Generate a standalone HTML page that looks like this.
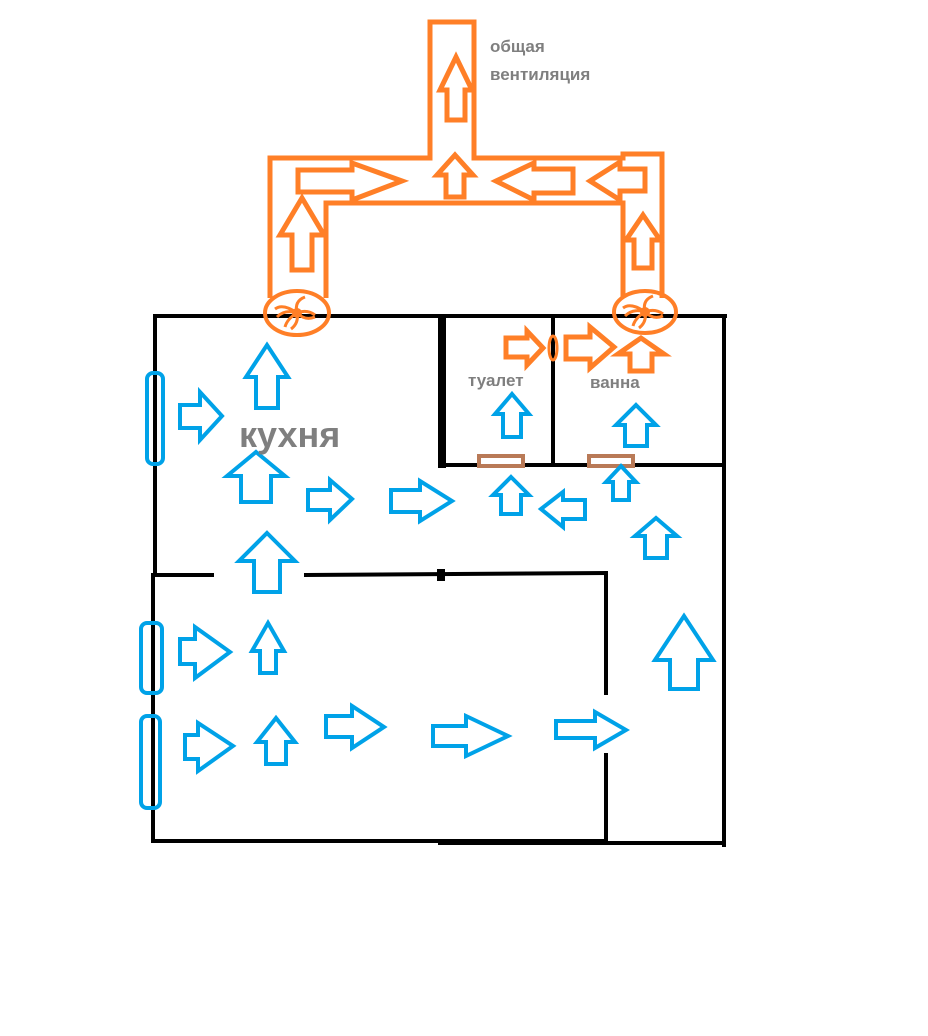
<!DOCTYPE html>
<html><head><meta charset="utf-8"><style>
html,body{margin:0;padding:0;background:#fff;width:928px;height:1036px;overflow:hidden}
svg{display:block}
text{font-family:"Liberation Sans","DejaVu Sans",sans-serif;font-weight:bold;fill:#7f7f7f}
</style></head><body>
<svg width="928" height="1036" viewBox="0 0 928 1036" xmlns="http://www.w3.org/2000/svg">
<g stroke="#000" stroke-width="4" fill="none" stroke-linecap="square">
<line x1="155" y1="316" x2="725" y2="316"/>
<line x1="155" y1="316" x2="155" y2="575"/>
<line x1="153" y1="575" x2="212" y2="575"/>
<line x1="306" y1="575" x2="606" y2="573"/>
<line x1="153" y1="575" x2="153" y2="841"/>
<line x1="153" y1="841" x2="440" y2="841"/>
<line x1="724" y1="316" x2="724" y2="845"/>
<line x1="440" y1="465" x2="724" y2="465"/>
<line x1="553" y1="316" x2="553" y2="465"/>
<line x1="606" y1="573" x2="606" y2="693"/>
<line x1="606" y1="755" x2="606" y2="841"/>
<line x1="606" y1="843" x2="724" y2="843"/>
</g>
<line x1="442" y1="316" x2="442" y2="468" stroke="#000" stroke-width="8"/>
<line x1="438" y1="842" x2="606" y2="842" stroke="#000" stroke-width="6"/>
<rect x="437" y="569" width="8" height="12" fill="#000"/>
<rect x="479" y="456" width="44" height="10" fill="#fff" stroke="#b97a57" stroke-width="4"/>
<rect x="589" y="456" width="44" height="10" fill="#fff" stroke="#b97a57" stroke-width="4"/>
<g fill="none" stroke="#00a2e8" stroke-width="4">
<rect x="147" y="373" width="16" height="91" rx="6"/>
<rect x="141" y="623" width="21" height="70" rx="6"/>
<rect x="141" y="716" width="19" height="92" rx="6"/>
</g>
<g fill="none" stroke="#00a2e8" stroke-width="4" stroke-linejoin="miter">
<polygon points="267,345 288,377 278,377 278,408 256,408 256,377 246,377"/>
<polygon points="180,405 200,405 200,392 222,416 200,440 200,428 180,428"/>
<polygon points="256,452 285,476 271,476 271,502 241,502 241,476 227,476"/>
<polygon points="308,490 330,490 330,480 352,499 330,520 330,510 308,510"/>
<polygon points="391,490 420,490 420,481 452,501 420,521 420,512 391,512"/>
<polygon points="267,533 295,561 280,561 280,592 254,592 254,561 239,561"/>
<polygon points="180,639 195,639 195,627 230,652 195,678 195,664 180,664"/>
<polygon points="268,623 284,651 276,651 276,673 260,673 260,651 252,651"/>
<polygon points="185,735 198,735 198,723 233,746 198,771 198,759 185,759"/>
<polygon points="276,718 295,742 286,742 286,764 266,764 266,742 257,742"/>
<polygon points="326,716 352,716 352,706 384,727 352,748 352,737 326,737"/>
<polygon points="433,726 466,726 466,716 508,736 466,756 466,746 433,746"/>
<polygon points="556,721 595,721 595,712 626,730 595,748 595,738 556,738"/>
<polygon points="684,616 713,660 698,660 698,689 670,689 670,660 655,660"/>
<polygon points="656,518 677,536 667,536 667,558 645,558 645,536 635,536"/>
<polygon points="621,466 636,482 629,482 629,500 613,500 613,482 606,482"/>
<polygon points="541,509 563,492 563,500 585,500 585,519 563,519 563,527"/>
<polygon points="511,477 529,495 521,495 521,514 501,514 501,495 493,495"/>
<polygon points="512,394 529,414 521,414 521,437 503,437 503,414 495,414"/>
<polygon points="636,405 656,425 647,425 647,446 625,446 625,425 616,425"/>
</g>
<g fill="none" stroke="#ff7f27" stroke-width="5" stroke-linejoin="miter">
<path d="M270,298 V158 H430 V22 H474 V158 H623 V154 H662 V298 M623,298 V203 H326 V298"/>
<polygon points="456,57 472,90 465,90 465,120 447,120 447,90 440,90"/>
<polygon points="455,155 473,175 464,175 464,197 446,197 446,175 437,175"/>
<polygon points="298,170 352,170 352,163 402,181 352,200 352,192 298,192"/>
<polygon points="496,181 534,163 534,169 573,169 573,193 534,193 534,200"/>
<polygon points="590,181 620,162 620,169 645,169 645,191 620,191 620,200"/>
<polygon points="302,198 324,235 312,235 312,270 292,270 292,235 280,235"/>
<polygon points="643,215 660,240 652,240 652,268 634,268 634,240 626,240"/>
<polygon points="506,338 527,338 527,331 543,348 527,365 527,357 506,357"/>
<polygon points="566,337 590,337 590,327 614,347 590,368 590,359 566,359"/>
<polygon points="641,338 664,354 652,354 652,371 630,371 630,354 618,354"/>
<ellipse cx="553" cy="348" rx="4" ry="12" stroke-width="3"/>
<ellipse cx="297" cy="313" rx="32" ry="22" stroke-width="4"/>
<ellipse cx="645" cy="312" rx="31" ry="21" stroke-width="4"/>
</g>
<g fill="none" stroke="#ff7f27" stroke-width="3">
<path d="M297,313 q-12,-4 -20,4 M297,313 q-3,-12 8,-16 M297,313 q10,-4 18,2 M297,313 q2,10 -6,16 M297,313 q8,8 18,4 M297,313 q-10,6 -12,14 M297,313 q-14,-10 -22,-4"/>
<path d="M645,312 q-12,-4 -20,4 M645,312 q-3,-12 8,-16 M645,312 q10,-4 18,2 M645,312 q2,10 -6,16 M645,312 q8,8 18,4 M645,312 q-10,6 -12,14 M645,312 q-14,-10 -22,-4"/>
</g>
<circle cx="297" cy="313" r="5" fill="#ff7f27"/>
<circle cx="645" cy="312" r="5" fill="#ff7f27"/>
<text x="239" y="447" font-size="36">кухня</text>
<text x="468" y="386" font-size="17">туалет</text>
<text x="590" y="388" font-size="17">ванна</text>
<text x="490" y="52" font-size="17">общая</text>
<text x="490" y="80" font-size="17">вентиляция</text>
</svg>
</body></html>
